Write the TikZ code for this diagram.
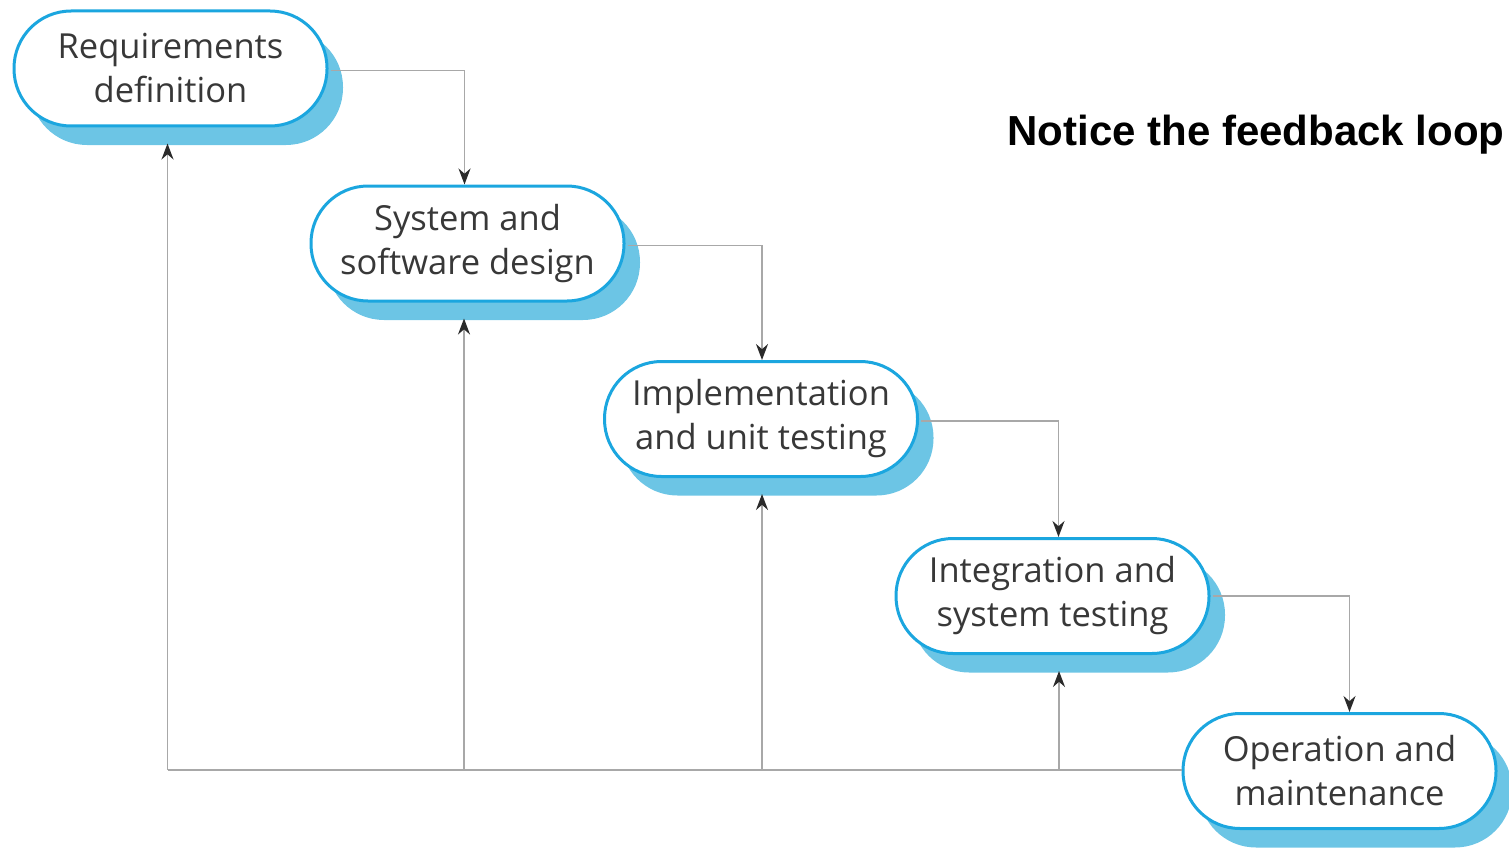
\documentclass[tikz,border=0pt]{standalone}
\usepackage{fontspec}
\setmainfont{Open Sans}
\newfontfamily\titlefont{Liberation Sans}
\usetikzlibrary{shadows,calc,arrows.meta}
\definecolor{pillblue}{HTML}{1BA6DF}
\definecolor{shadowblue}{HTML}{6CC5E5}
\definecolor{linegray}{HTML}{A8A8A8}
\definecolor{textgray}{HTML}{383838}
\definecolor{tipgray}{HTML}{2A2A2A}
\tikzset{
  pill/.style={draw=pillblue, line width=3pt, fill=white, rounded corners=57pt,
    minimum width=313pt, minimum height=115pt, align=center, text=textgray,
    font=\fontsize{34.5}{44}\selectfont,
    general shadow={fill=shadowblue, shadow xshift=16pt, shadow yshift=-19pt}},
  flow/.style={draw=linegray, line width=1.8pt,
    -{Stealth[length=16pt,width=12pt,color=tipgray,fill=tipgray]}},
  plainline/.style={draw=linegray, line width=1.8pt}
}
\begin{document}
\begin{tikzpicture}[x=1pt,y=-1pt]
\useasboundingbox (0,0) rectangle (1509,848);
\node[pill] (req) at (170.5,68.5) {Requirements\\definition};
\node[pill] (sys) at (467.5,243.5) {System and\\software design};
\node[pill] (imp) at (761,419) {Implementation\\and unit testing};
\node[pill] (int) at (1052.5,596) {Integration and\\system testing};
\node[pill] (op) at (1339.5,771) {Operation and\\maintenance};
\node[anchor=east, font=\titlefont\bfseries\fontsize{42}{48}\selectfont] (note) at (1508,135) {Notice the feedback loop};
% forward flow
\draw[flow] ($(req.east)+(2,2)$) -| ($(sys.north)+(-3,0)$);
\draw[flow] ($(sys.east)+(2,2)$) -| ($(imp.north)+(1,0)$);
\draw[flow] ($(imp.east)+(2,2)$) -| ($(int.north)+(6,0)$);
\draw[flow] ($(int.east)+(2,0)$) -| ($(op.north)+(10,0)$);
% feedback
\coordinate (fb) at ($(op.west)+(0,-1)$);
\coordinate (b1) at (167.5,770);
\coordinate (b2) at (464,770);
\coordinate (b3) at (762,770);
\coordinate (b4) at (1059,770);
\draw[plainline] (fb) -- (b1);
\draw[flow] (b1) -- ($(req.south)+(-3,16)$);
\draw[flow] (b2) -- ($(sys.south)+(-3.5,16)$);
\draw[flow] (b3) -- ($(imp.south)+(1,16)$);
\draw[flow] (b4) -- ($(int.south)+(6.5,16)$);
\end{tikzpicture}
\end{document}
